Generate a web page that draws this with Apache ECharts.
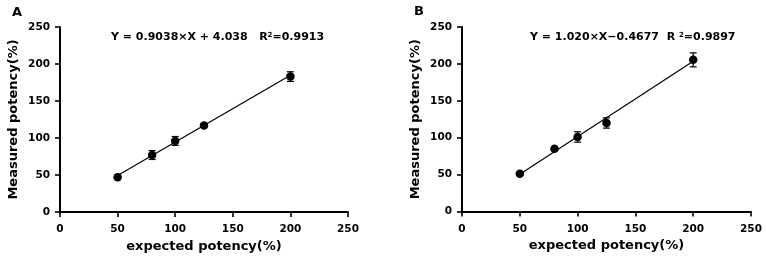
<!DOCTYPE html>
<html><head><meta charset="utf-8">
<script src="https://cdn.jsdelivr.net/npm/echarts@6/dist/echarts.min.js"></script>
<style>html,body{margin:0;padding:0;background:#fff}#c{width:766px;height:264px}</style>
</head><body><div id="c"></div>
<script>
// ---- data ----
const expectedX = [50, 80, 100, 125, 200];
const measuredA = [47, 77, 96, 117, 183];
const errA = [1.5, 6, 6, 2, 6.5];
const measuredB = [51, 85, 101, 120, 205.5];
const errB = [1.5, 2, 7, 7, 9.5];
const fitXA = [50, 200];
const fitYA = [49.2, 184.8];
const fitXB = [50, 200];
const fitYB = [50.5, 203.5];
const axisTicks = [0, 50, 100, 150, 200, 250];
const xTitle = 'expected potency(%)';
const yTitle = 'Measured potency(%)';
const eqA = ['Y = 0.9038×X + 4.038   R', '2', '=0.9913'];
const eqB = ['Y = 1.020×X\u22120.4677  R ', '2', '=0.9897'];

const FONT = 'DejaVu Sans';
const INK = '#000';
const chart = echarts.init(document.getElementById('c'));

function zip(xs, ys) { return xs.map((x, i) => [x, ys[i]]); }
function errData(xs, ys, es) { return xs.map((x, i) => [x, ys[i] - es[i], ys[i] + es[i]]); }

function errorRender(params, api) {
  const x = api.value(0);
  const lo = api.coord([x, api.value(1)]);
  const hi = api.coord([x, api.value(2)]);
  const hw = 3.5;
  const st = { stroke: INK, lineWidth: 1.2 };
  return { type: 'group', children: [
    { type: 'line', shape: { x1: lo[0], y1: lo[1], x2: hi[0], y2: hi[1] }, style: st },
    { type: 'line', shape: { x1: lo[0] - hw, y1: lo[1], x2: lo[0] + hw, y2: lo[1] }, style: st },
    { type: 'line', shape: { x1: hi[0] - hw, y1: hi[1], x2: hi[0] + hw, y2: hi[1] }, style: st }
  ]};
}

function xAxis(gi) {
  return {
    type: 'value', gridIndex: gi, min: axisTicks[0], max: axisTicks[axisTicks.length - 1], interval: 50,
    name: xTitle, nameLocation: 'middle', nameGap: 28,
    nameTextStyle: { fontFamily: FONT, fontWeight: 'bold', fontSize: 13, color: INK },
    axisLine: { lineStyle: { color: INK, width: 2 } },
    axisTick: { inside: false, length: 5, lineStyle: { color: INK, width: 1.6 } },
    axisLabel: { margin: 12, fontFamily: FONT, fontWeight: 'bold', fontSize: 10.5, color: INK },
    splitLine: { show: false }
  };
}
function yAxis(gi) {
  return {
    type: 'value', gridIndex: gi, min: axisTicks[0], max: axisTicks[axisTicks.length - 1], interval: 50,
    name: yTitle, nameLocation: 'middle', nameGap: 40,
    nameTextStyle: { fontFamily: FONT, fontWeight: 'bold', fontSize: 13, color: INK },
    axisLine: { lineStyle: { color: INK, width: 2 } },
    axisTick: { inside: false, length: 5, lineStyle: { color: INK, width: 1.6 } },
    axisLabel: { margin: 10, fontFamily: FONT, fontWeight: 'bold', fontSize: 10.5, color: INK },
    splitLine: { show: false }
  };
}

const richStyle = {
  n: { fontFamily: FONT, fontWeight: 'bold', fontSize: 11, color: INK },
  s: { fontFamily: FONT, fontWeight: 'bold', fontSize: 7, color: INK, verticalAlign: 'top', padding: [0, 0, 4, 0] }
};

function series(gi, ys, es, fx, fy) {
  return [
    { type: 'line', xAxisIndex: gi, yAxisIndex: gi, data: zip(fx, fy), symbol: 'none',
      lineStyle: { color: INK, width: 1.2 }, silent: true, z: 2 },
    { type: 'custom', xAxisIndex: gi, yAxisIndex: gi, data: errData(expectedX, ys, es),
      renderItem: errorRender, encode: { x: 0, y: [1, 2] }, z: 3 },
    { type: 'scatter', xAxisIndex: gi, yAxisIndex: gi, data: zip(expectedX, ys),
      symbol: 'circle', symbolSize: 8.5, itemStyle: { color: INK, opacity: 1 }, z: 4 }
  ];
}

chart.setOption({
  animation: false,
  backgroundColor: '#fff',
  grid: [
    { left: 60, top: 27, width: 288, height: 185 },
    { left: 462, top: 27, width: 289, height: 184.5 }
  ],
  title: [
    { text: 'A', left: 12, top: 6, padding: 0, textStyle: { fontFamily: FONT, fontWeight: 'bold', fontSize: 13, color: INK } },
    { text: 'B', left: 414, top: 5, padding: 0, textStyle: { fontFamily: FONT, fontWeight: 'bold', fontSize: 13, color: INK } },
    { text: '{n|' + eqA[0] + '}{s|' + eqA[1] + '}{n|' + eqA[2] + '}', left: 111, top: 32, padding: 0, textStyle: { rich: richStyle } },
    { text: '{n|' + eqB[0] + '}{s|' + eqB[1] + '}{n|' + eqB[2] + '}', left: 530, top: 32, padding: 0, textStyle: { rich: richStyle } }
  ],
  xAxis: [xAxis(0), xAxis(1)],
  yAxis: [yAxis(0), yAxis(1)],
  series: [].concat(series(0, measuredA, errA, fitXA, fitYA), series(1, measuredB, errB, fitXB, fitYB))
});
</script>
</body></html>
